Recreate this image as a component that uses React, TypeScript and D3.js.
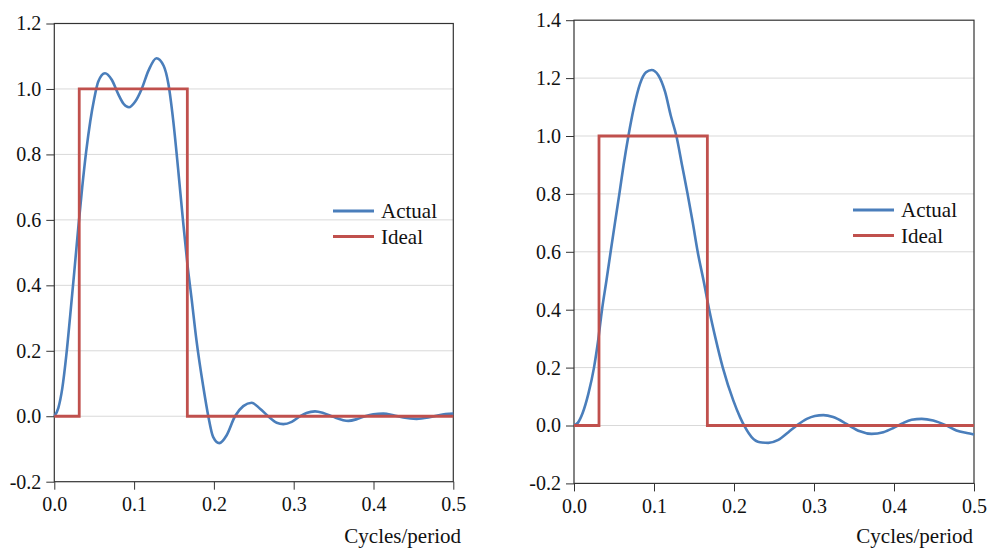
import { useEffect, useRef } from "react";
import * as d3 from "d3";

// frequency response (cycles/period, gain)
const leftFreq = [0, 0.005, 0.01, 0.015, 0.02, 0.025, 0.03, 0.035, 0.04, 0.045, 0.05, 0.055, 0.0635, 0.072, 0.08, 0.087, 0.0936, 0.101, 0.1095, 0.118, 0.128, 0.137, 0.143, 0.149, 0.155, 0.161, 0.167, 0.172, 0.178, 0.1867, 0.193, 0.199, 0.2068, 0.216, 0.2264, 0.2368, 0.2474, 0.2578, 0.268, 0.2787, 0.287, 0.2975, 0.308, 0.316, 0.3267, 0.337, 0.3496, 0.362, 0.3684, 0.379, 0.3893, 0.3997, 0.4123, 0.425, 0.4373, 0.454, 0.4687, 0.4833, 0.5];
const leftActual = [0, 0.025, 0.085, 0.185, 0.31, 0.44, 0.575, 0.7, 0.81, 0.9, 0.97, 1.022, 1.048, 1.028, 0.985, 0.954, 0.944, 0.96, 1.0, 1.056, 1.094, 1.071, 1.015, 0.904, 0.76, 0.605, 0.46, 0.36, 0.235, 0.09, 0.0, -0.063, -0.082, -0.058, 0.0, 0.031, 0.041, 0.023, 0.0, -0.02, -0.024, -0.017, 0.0, 0.01, 0.015, 0.01, -0.002, -0.012, -0.014, -0.009, 0.0, 0.006, 0.008, 0.003, -0.004, -0.008, -0.004, 0.004, 0.008];

const rightFreq = [0, 0.005, 0.0108, 0.018, 0.025, 0.03, 0.035, 0.0405, 0.0458, 0.0512, 0.0567, 0.062, 0.068, 0.075, 0.0825, 0.09, 0.097, 0.1054, 0.1138, 0.121, 0.128, 0.135, 0.142, 0.1485, 0.1546, 0.162, 0.169, 0.177, 0.186, 0.1992, 0.2075, 0.2138, 0.222, 0.2325, 0.243, 0.2554, 0.268, 0.2784, 0.291, 0.301, 0.3117, 0.324, 0.3367, 0.345, 0.3575, 0.372, 0.3867, 0.399, 0.4096, 0.422, 0.4346, 0.449, 0.4638, 0.478, 0.491, 0.5];
const rightActual = [0, 0.01, 0.043, 0.11, 0.2, 0.29, 0.4, 0.5, 0.6, 0.7, 0.8, 0.9, 1.0, 1.1, 1.18, 1.22, 1.228, 1.21, 1.153, 1.07, 1.0, 0.9, 0.8, 0.7, 0.6, 0.5, 0.4, 0.3, 0.2, 0.086, 0.029, -0.006, -0.04, -0.058, -0.06, -0.05, -0.023, 0.0, 0.023, 0.033, 0.036, 0.029, 0.012, -0.002, -0.02, -0.029, -0.023, -0.009, 0.006, 0.02, 0.023, 0.017, 0.002, -0.017, -0.026, -0.031];

// ideal band-pass: passes periods 6 to 32
const idealFreq = [0, 0.03125, 0.1667, 0.5];
const idealValue = [0, 1, 0, 0];

const xTicks = [0, 0.1, 0.2, 0.3, 0.4, 0.5];
const leftYTicks = [-0.2, 0, 0.2, 0.4, 0.6, 0.8, 1.0, 1.2];
const rightYTicks = [-0.2, 0, 0.2, 0.4, 0.6, 0.8, 1.0, 1.2, 1.4];
const seriesNames = ["Actual", "Ideal"];
const seriesColors = ["#4a7ebb", "#c0504d"];

const font = "'Liberation Serif', 'Times New Roman', serif";

function drawPanel(root, p) {
    const x = d3.scaleLinear().domain([0, 0.5]).range([p.left, p.right]);
    const y = d3.scaleLinear().domain([p.yTicks[0], p.yTicks[p.yTicks.length - 1]]).range([p.bottom, p.top]);
    const g = root.append("g");

    g.selectAll("line.grid")
        .data(p.yTicks.slice(1, -1))
        .enter()
        .append("line")
        .attr("x1", p.left)
        .attr("x2", p.right)
        .attr("y1", d => y(d))
        .attr("y2", d => y(d))
        .attr("stroke", "#d9d9d9")
        .attr("stroke-width", 1);

    const fmt = d => d.toFixed(1);

    const ya = g.append("g")
        .attr("transform", `translate(${p.left},0)`)
        .call(d3.axisLeft(y).tickValues(p.yTicks).tickFormat(fmt).tickSize(8).tickPadding(5));
    const xa = g.append("g")
        .attr("transform", `translate(0,${p.bottom})`)
        .call(d3.axisBottom(x).tickValues(xTicks).tickFormat(fmt).tickSize(8).tickPadding(7));
    [ya, xa].forEach(a => {
        a.attr("font-family", null).attr("font-size", null);
        a.select(".domain").remove();
        a.selectAll("line").attr("stroke", "#333");
        a.selectAll("text")
            .attr("fill", "#111")
            .style("font-family", font)
            .style("font-size", "20px");
    });

    g.append("rect")
        .attr("x", p.left)
        .attr("y", p.top)
        .attr("width", p.right - p.left)
        .attr("height", p.bottom - p.top)
        .attr("fill", "none")
        .attr("stroke", "#333")
        .attr("stroke-width", 1.2);

    const line = d3.line()
        .x(d => x(d[0]))
        .y(d => y(d[1]))
        .curve(d3.curveMonotoneX);
    g.append("path")
        .attr("d", line(p.freq.map((f, i) => [f, p.actual[i]])))
        .attr("fill", "none")
        .attr("stroke", seriesColors[0])
        .attr("stroke-width", 2.6);

    const step = d3.line()
        .x(d => x(d[0]))
        .y(d => y(d[1]))
        .curve(d3.curveStepAfter);
    g.append("path")
        .attr("d", step(idealFreq.map((f, i) => [f, idealValue[i]])))
        .attr("fill", "none")
        .attr("stroke", seriesColors[1])
        .attr("stroke-width", 2.8);

    seriesNames.forEach((name, i) => {
        const ly = p.legendY + i * 25.5;
        g.append("line")
            .attr("x1", p.legendX)
            .attr("x2", p.legendX + 41)
            .attr("y1", ly)
            .attr("y2", ly)
            .attr("stroke", seriesColors[i])
            .attr("stroke-width", 2.8);
        g.append("text")
            .attr("x", p.legendX + 48)
            .attr("y", ly)
            .attr("dy", "0.35em")
            .attr("fill", "#111")
            .style("font-family", font)
            .style("font-size", "21px")
            .text(name);
    });

    g.append("text")
        .attr("text-anchor", "end")
        .attr("x", p.titleX)
        .attr("y", 543)
        .attr("fill", "#111")
        .style("font-family", font)
        .style("font-size", "21px")
        .text("Cycles/period");
}

export default function App() {
    const svgRef = useRef(null);

    useEffect(() => {
        const svg = d3.select(svgRef.current);
        svg.selectAll("*").remove();

        drawPanel(svg, {
            left: 54.3, right: 453.3, top: 23.5, bottom: 481.7,
            yTicks: leftYTicks, freq: leftFreq, actual: leftActual,
            legendX: 333, legendY: 211, titleX: 461
        });
        drawPanel(svg, {
            left: 574, right: 974, top: 20.2, bottom: 483.4,
            yTicks: rightYTicks, freq: rightFreq, actual: rightActual,
            legendX: 853, legendY: 210, titleX: 973
        });
    }, []);

    return (
        <svg ref={svgRef} width={987} height={548}
            style={{ position: "absolute", left: 0, top: 0, background: "#fff" }} />
    );
}
